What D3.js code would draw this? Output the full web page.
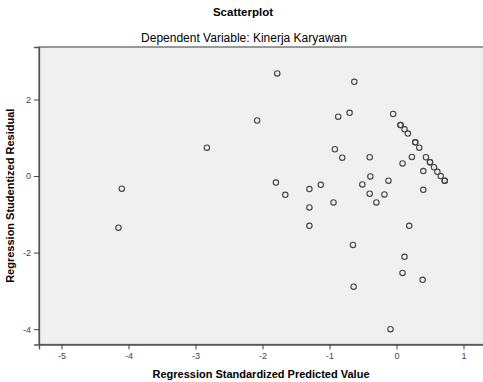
<!DOCTYPE html>
<html>
<head>
<meta charset="utf-8">
<script src="https://cdn.jsdelivr.net/npm/d3@7"></script>
<style>
  body { margin: 0; background: #fff; }
  svg { display: block; font-family: "Liberation Sans", Arial, sans-serif; }
</style>
</head>
<body>
<div id="chart"></div>
<script>
// predicted (standardized) values and studentized residuals
const predicted = [
  -1.78, -0.63, -2.08, -2.83, -0.87, -0.70, -0.05, 0.06, 0.06, 0.12,
  0.17, 0.28, 0.28, 0.34, -0.92, -0.81, -0.40, 0.09, 0.23, 0.44,
  0.50, 0.50, 0.56, 0.61, 0.66, 0.72, 0.72, 0.40, 0.40, -0.39,
  -0.12, -0.51, -0.40, -0.18, -0.30, -0.94, -1.13, -1.30, -1.66, -1.80,
  -1.30, -1.30, 0.19, -0.65, -4.10, -4.15, 0.12, 0.09, 0.39, -0.64,
  -0.09
];
const residual = [
  2.68, 2.46, 1.45, 0.74, 1.55, 1.65, 1.62, 1.33, 1.33, 1.22,
  1.11, 0.88, 0.88, 0.74, 0.70, 0.48, 0.49, 0.33, 0.50, 0.49,
  0.36, 0.36, 0.23, 0.11, 0.00, -0.12, -0.12, 0.13, -0.36, -0.01,
  -0.12, -0.22, -0.46, -0.48, -0.69, -0.69, -0.23, -0.34, -0.49, -0.17,
  -0.82, -1.30, -1.30, -1.80, -0.33, -1.35, -2.11, -2.53, -2.71, -2.89,
  -4.00
];
const xTicks = [-5, -4, -3, -2, -1, 0, 1];
const yTicks = [-4, -2, 0, 2];

const width = 483, height = 382;
const margin = { top: 47, right: -3, bottom: 37.5, left: 39 };
const w = width - margin.left - margin.right;
const h = height - margin.top - margin.bottom;

const svg = d3.select("#chart")
  .append("svg")
  .attr("width", width)
  .attr("height", height);

svg.append("text")
  .attr("x", 243).attr("y", 16)
  .attr("text-anchor", "middle")
  .style("font-size", "11.5px").style("font-weight", "bold")
  .text("Scatterplot");

svg.append("text")
  .attr("x", 244).attr("y", 42)
  .attr("text-anchor", "middle")
  .style("font-size", "12px")
  .text("Dependent Variable: Kinerja Karyawan");

const g = svg.append("g")
  .attr("transform", "translate(" + margin.left + "," + margin.top + ")");

const x = d3.scaleLinear().domain([-5.336, 1.336]).range([0, w]);
const y = d3.scaleLinear().domain([-4.40, 3.37]).range([h, 0]);

g.append("rect")
  .attr("width", w).attr("height", h)
  .attr("fill", "#f0f0f0")
  .attr("stroke", "#666").attr("stroke-width", 1.3);

// x axis
const xAxis = g.append("g")
  .attr("transform", "translate(0," + h + ")")
  .call(d3.axisBottom(x).tickValues(xTicks).tickSize(5).tickFormat(d => String(d)));

// y axis
const yAxis = g.append("g")
  .call(d3.axisLeft(y).tickValues(yTicks).tickSize(5).tickFormat(d => String(d)));

[xAxis, yAxis].forEach(a => {
  a.select(".domain").attr("stroke", "#555").attr("stroke-width", 1.3);
  a.selectAll(".tick line").attr("stroke", "#444");
  a.selectAll(".tick text").attr("fill", "#444").style("font-size", "9px");
});

const pts = predicted.map((p, i) => ({ p: p, r: residual[i] }));

g.selectAll("circle.pt")
  .data(pts)
  .enter()
  .append("circle")
  .attr("class", "pt")
  .attr("cx", d => x(d.p))
  .attr("cy", d => y(d.r))
  .attr("r", 2.7)
  .attr("fill", "none")
  .attr("stroke", "#444")
  .attr("stroke-width", 1.1);

svg.append("text")
  .attr("x", 261).attr("y", 378)
  .attr("text-anchor", "middle")
  .style("font-size", "11px").style("font-weight", "bold")
  .text("Regression Standardized Predicted Value");

svg.append("text")
  .attr("transform", "translate(14," + (margin.top + h / 2) + ")rotate(-90)")
  .attr("text-anchor", "middle")
  .style("font-size", "11px").style("font-weight", "bold")
  .text("Regression Studentized Residual");
</script>
</body>
</html>
